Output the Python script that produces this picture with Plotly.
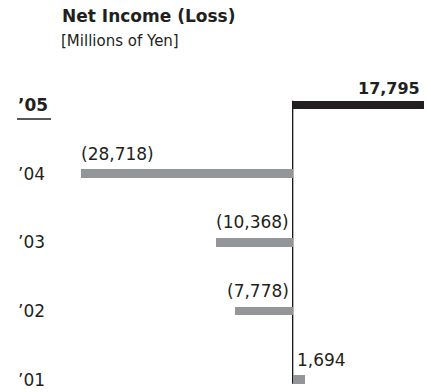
import plotly.graph_objects as go

# ---- data ----
years = ["’01", "’02", "’03", "’04", "’05"]
net_income = [1694, -7778, -10368, -28718, 17795]
value_labels = ["1,694", "(7,778)", "(10,368)", "(28,718)", "17,795"]
highlight_year = "’05"

title = "Net Income (Loss)"
subtitle = "[Millions of Yen]"

# ---- style ----
W, H = 431, 392
FONT = "DejaVu Sans"
TXT = "#231f20"
GRAY = "#939598"
DARK = "#231f20"
BAR_W = 0.124

pos = list(range(len(years)))
colors = [DARK if y == highlight_year else GRAY for y in years]

fig = go.Figure()
fig.add_trace(go.Bar(
    x=net_income, y=pos, orientation="h", width=BAR_W,
    marker=dict(color=colors, line=dict(width=0)),
    hoverinfo="skip",
))

ann = []
# title
ann.append(dict(text="<b>" + title + "</b>", xref="paper", yref="paper",
                x=60 / W, y=1 - 16 / H, xanchor="left", yanchor="middle",
                showarrow=False, font=dict(family=FONT, size=17, color=TXT)))
ann.append(dict(text=subtitle, xref="paper", yref="paper",
                x=59 / W, y=1 - 41 / H, xanchor="left", yanchor="middle",
                showarrow=False, font=dict(family=FONT, size=15, color=TXT)))

for p, yr, v, lab in zip(pos, years, net_income, value_labels):
    hl = yr == highlight_year
    # category label
    ann.append(dict(text=("<b>" + yr + "</b>") if hl else yr,
                    xref="paper", yref="y", x=16 / W, y=p,
                    xanchor="left", yanchor="middle", showarrow=False,
                    font=dict(family=FONT, size=17, color=TXT)))
    # value label
    if v < 0:
        if abs(v) > 15000:
            x, xa, xs = v, "left", -2
        else:
            x, xa, xs = 0, "right", -2
    else:
        if v > 5000:
            x, xa, xs = v, "right", -2
        else:
            x, xa, xs = 0, "left", 2
    ann.append(dict(text=("<b>" + lab + "</b>") if hl else lab,
                    xref="x", yref="y", x=x, y=p, xanchor=xa, yanchor="middle",
                    xshift=xs, yshift=(17 if hl else 20), showarrow=False,
                    font=dict(family=FONT, size=(16 if hl else 17), color=TXT)))

shapes = [
    # zero line
    dict(type="line", xref="x", yref="y", x0=0, x1=0,
         y0=pos[0] - BAR_W / 2, y1=pos[-1] + BAR_W / 2,
         line=dict(color="#000000", width=1.2), layer="below"),
    # underline for highlighted year
    dict(type="line", xref="paper", yref="y", ysizemode="pixel",
         yanchor=pos[years.index(highlight_year)], y0=-14, y1=-14,
         x0=17 / W, x1=51 / W, line=dict(color=TXT, width=1.5)),
]

px_per_k = 7.38
zero_px = 292.7
xmin = -zero_px / px_per_k * 1000
xmax = (W - zero_px) / px_per_k * 1000

unit_px = 68.625
bottom_off = 12.5 / unit_px
ymin = -bottom_off
ymax = ymin + H / unit_px

fig.update_layout(
    width=W, height=H, autosize=False,
    margin=dict(l=0, r=0, t=0, b=0, pad=0),
    paper_bgcolor="white", plot_bgcolor="white",
    showlegend=False, bargap=0,
    xaxis=dict(range=[xmin, xmax], visible=False, fixedrange=True),
    yaxis=dict(range=[ymin, ymax], visible=False, fixedrange=True),
    annotations=ann, shapes=shapes,
)

fig.write_html("out.html", config={"displayModeBar": False})
